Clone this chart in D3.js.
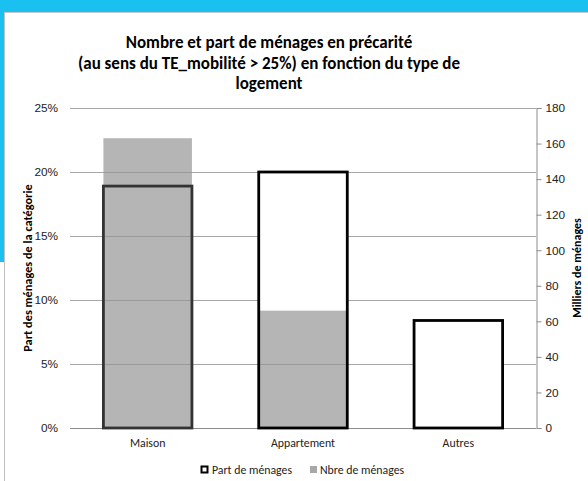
<!DOCTYPE html>
<html lang="fr">
<head>
<meta charset="UTF-8">
<title>Ménages en précarité</title>
<style>
    body { margin: 0; background: #fff; }
    svg { display: block; font-family: Carlito, Lato, sans-serif; }
</style>
<script src="https://d3js.org/d3.v7.min.js"></script>
</head>
<body>
<svg id="chart" width="588" height="481"></svg>
<script>
// données
const categories = ["Maison", "Appartement", "Autres"];
const partMenages = [0.189, 0.20, 0.084];   // axe de gauche
const nbreMenages = [163, 66, 0.6];         // milliers, axe de droite
const leftTicks = [0, 0.05, 0.10, 0.15, 0.20, 0.25];
const rightTicks = [0, 20, 40, 60, 80, 100, 120, 140, 160, 180];
const titleLines = [
    "Nombre et part de ménages en précarité",
    "(au sens du TE_mobilité > 25%) en fonction du type de",
    "logement"
];

const svg = d3.select("#chart");

// cadre bleu de la diapo
svg.append("rect").attr("x", 0).attr("y", 0).attr("width", 588).attr("height", 12).attr("fill", "#19c0f0");
svg.append("rect").attr("x", 0).attr("y", 0).attr("width", 4).attr("height", 262).attr("fill", "#19c0f0");
svg.append("line").attr("x1", 4).attr("x2", 588).attr("y1", 12.5).attr("y2", 12.5).attr("stroke", "#c8c8c8");
svg.append("line").attr("x1", 4.5).attr("x2", 4.5).attr("y1", 12).attr("y2", 481).attr("stroke", "#c0c0c0");

const plotLeft = 70, plotRight = 536, plotTop = 108, plotBottom = 428;
const labelSize = 11.8;

const x = d3.scaleBand().domain(categories).range([plotLeft, plotRight])
    .paddingInner(0.43).paddingOuter(0.215);
const yL = d3.scaleLinear().domain([0, 0.25]).range([plotBottom, plotTop]);
const yR = d3.scaleLinear().domain([0, 180]).range([plotBottom, plotTop]);

// titre
svg.append("text")
    .attr("x", 269).attr("y", 48)
    .attr("text-anchor", "middle")
    .attr("font-weight", "bold").attr("font-size", 17)
    .selectAll("tspan").data(titleLines).join("tspan")
    .attr("x", 269).attr("dy", (d, i) => i ? 20.5 : 0)
    .text(d => d);

// grille
svg.append("g")
    .selectAll("line").data(leftTicks).join("line")
    .attr("x1", plotLeft).attr("x2", plotRight)
    .attr("y1", d => Math.round(yL(d)) + 0.5).attr("y2", d => Math.round(yL(d)) + 0.5)
    .attr("stroke", "#a6a6a6");

// axe gauche
svg.append("g")
    .attr("transform", `translate(${plotLeft},0)`)
    .call(d3.axisLeft(yL).tickValues(leftTicks).tickFormat(d3.format(".0%")).tickSize(0).tickPadding(12))
    .call(g => g.select(".domain").remove())
    .call(g => g.selectAll("text").attr("font-size", labelSize).attr("fill", "#222").attr("font-family", null));

// axe droit
svg.append("g")
    .attr("transform", `translate(${plotRight + 0.5},0)`)
    .call(d3.axisRight(yR).tickValues(rightTicks).tickSize(5).tickPadding(4))
    .call(g => g.select(".domain").attr("stroke", "#8c8c8c"))
    .call(g => g.selectAll(".tick line").attr("stroke", "#8c8c8c"))
    .call(g => g.selectAll("text").attr("font-size", labelSize).attr("fill", "#222").attr("font-family", null));

// fond blanc des barres "Part"
svg.append("g")
    .selectAll("rect").data(partMenages).join("rect")
    .attr("x", (d, i) => x(categories[i]))
    .attr("y", d => yL(d))
    .attr("width", x.bandwidth())
    .attr("height", d => plotBottom - yL(d))
    .attr("fill", "#fff");

// barres "Nbre"
svg.append("g")
    .selectAll("rect").data(nbreMenages).join("rect")
    .attr("x", (d, i) => x(categories[i]))
    .attr("y", d => yR(d))
    .attr("width", x.bandwidth())
    .attr("height", d => plotBottom - yR(d))
    .attr("fill", "#b5b5b5");

// la grille reste visible à travers les barres grises
svg.append("clipPath").attr("id", "clipGrey")
    .selectAll("rect").data(nbreMenages).join("rect")
    .attr("x", (d, i) => x(categories[i]))
    .attr("y", d => yR(d))
    .attr("width", x.bandwidth())
    .attr("height", d => plotBottom - yR(d));
svg.append("g").attr("clip-path", "url(#clipGrey)")
    .selectAll("line").data(leftTicks).join("line")
    .attr("x1", plotLeft).attr("x2", plotRight)
    .attr("y1", d => Math.round(yL(d)) + 0.5).attr("y2", d => Math.round(yL(d)) + 0.5)
    .attr("stroke", "#999");

// ligne de base
svg.append("line")
    .attr("x1", plotLeft).attr("x2", plotRight)
    .attr("y1", plotBottom + 0.5).attr("y2", plotBottom + 0.5)
    .attr("stroke", "#8c8c8c");

// contours "Part"
svg.append("g")
    .selectAll("rect").data(partMenages).join("rect")
    .attr("x", (d, i) => x(categories[i]))
    .attr("y", d => yL(d))
    .attr("width", x.bandwidth())
    .attr("height", d => plotBottom - yL(d))
    .attr("fill", "none")
    .attr("stroke", (d, i) => yR(nbreMenages[i]) < yL(d) ? "#333" : "#000")
    .attr("stroke-width", 2.8);

// axe des catégories
svg.append("g")
    .selectAll("text").data(categories).join("text")
    .attr("x", d => x(d) + x.bandwidth() / 2)
    .attr("y", 447)
    .attr("text-anchor", "middle")
    .attr("font-size", labelSize).attr("fill", "#222")
    .text(d => d);

// titres des axes
svg.append("text")
    .attr("transform", "translate(32,268) rotate(-90)")
    .attr("text-anchor", "middle")
    .attr("font-size", 12.3).attr("font-weight", "bold")
    .text("Part des ménages de la catégorie");
svg.append("text")
    .attr("transform", "translate(581,268) rotate(-90)")
    .attr("text-anchor", "middle")
    .attr("font-size", 12).attr("font-weight", "bold")
    .text("Milliers de ménages");

// légende
const leg = svg.append("g").attr("font-size", labelSize).attr("fill", "#222");
leg.append("rect").attr("x", 201.5).attr("y", 466.5).attr("width", 6).attr("height", 6)
    .attr("fill", "#fff").attr("stroke", "#000").attr("stroke-width", 2);
leg.append("text").attr("x", 212).attr("y", 474).text("Part de ménages");
leg.append("rect").attr("x", 310).attr("y", 466).attr("width", 7).attr("height", 7).attr("fill", "#a8a8a8");
leg.append("text").attr("x", 320).attr("y", 474).text("Nbre de ménages");
</script>
</body>
</html>
